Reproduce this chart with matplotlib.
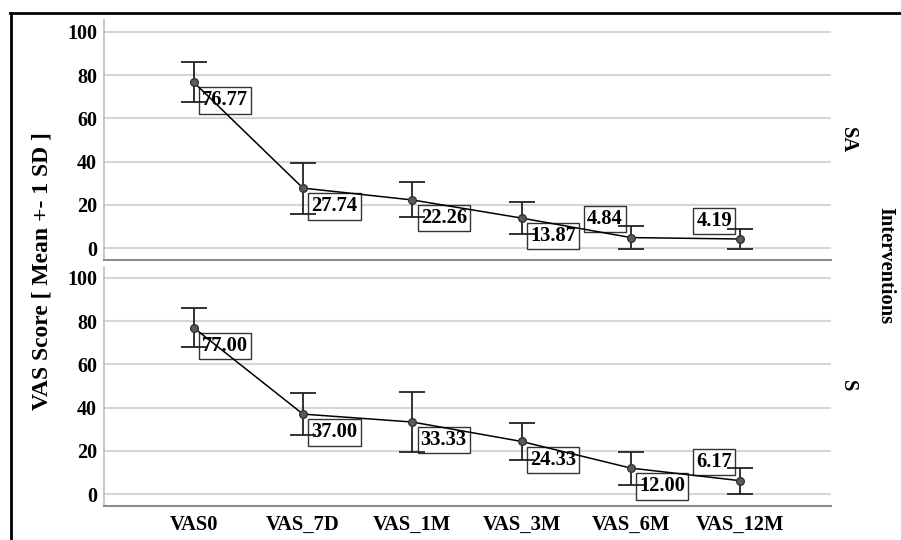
import numpy as np
import matplotlib.pyplot as plt
from matplotlib.lines import Line2D

plt.rcParams['font.family'] = ['Liberation Serif', 'DejaVu Serif']
plt.rcParams['font.weight'] = 'bold'

timepoints = ['VAS0', 'VAS_7D', 'VAS_1M', 'VAS_3M', 'VAS_6M', 'VAS_12M']
groups = ['SA', 'S']
sa_mean = [76.77, 27.74, 22.26, 13.87, 4.84, 4.19]
sa_sd = [9.3, 11.8, 8.1, 7.6, 5.2, 4.5]
s_mean = [77.00, 37.00, 33.33, 24.33, 12.00, 6.17]
s_sd = [9.0, 9.8, 14.0, 8.5, 7.6, 6.1]
# which labels sit above-left of the point instead of below-right
sa_above = [False, False, False, False, True, True]
s_above = [False, False, False, False, False, True]

W, H = 901, 540
fig = plt.figure(figsize=(W / 100, H / 100), dpi=100)

# outer frame (only left and top edges visible)
fig.add_artist(Line2D([10.5 / W, 10.5 / W], [0, 1 - 13 / H], color='black', lw=2,
                      transform=fig.transFigure))
fig.add_artist(Line2D([10 / W, 1], [1 - 13 / H, 1 - 13 / H], color='black', lw=2,
                      transform=fig.transFigure))

left, right = 104, 831
panels = [(20.5, 259.5), (266.5, 505.5)]
data = [(sa_mean, sa_sd, sa_above), (s_mean, s_sd, s_above)]
x = np.arange(len(timepoints))

for i, ((top, bot), (m, sd, above)) in enumerate(zip(panels, data)):
    ax = fig.add_axes([left / W, 1 - bot / H, (right - left) / W, (bot - top) / H])
    ax.set_xlim(-0.82, 5.83)
    ax.set_ylim(-5.3, 105.3)
    ax.set_yticks([0, 20, 40, 60, 80, 100])
    ax.yaxis.grid(True, color='#d6d6d6', lw=1.5, zorder=0)
    ax.set_axisbelow(True)
    for s in ['top', 'right']:
        ax.spines[s].set_visible(False)
    ax.spines['left'].set_color('#bdbdbd')
    ax.spines['bottom'].set_color('#8c8c8c')
    ax.spines['left'].set_linewidth(1.2)
    ax.spines['bottom'].set_linewidth(1.5)
    ax.tick_params(length=0, labelsize=14.5, pad=5)
    for lab in ax.get_yticklabels():
        lab.set_fontweight('bold')
    ax.set_xticks(x)
    if i == 1:
        ax.set_xticklabels(timepoints, fontsize=14.8, fontweight='bold')
        ax.tick_params(axis='x', pad=7)
    else:
        ax.set_xticklabels([])

    ax.errorbar(x, m, yerr=sd, fmt='none', ecolor='#222222', elinewidth=1.3,
                capsize=9.5, capthick=1.3, zorder=3)
    ax.plot(x, m, color='black', lw=1.1, marker='o', markersize=5.5,
            markerfacecolor='#5a5a5a', markeredgecolor='#333333', zorder=4)

    for xi, mi, up in zip(x, m, above):
        if up:
            off, ha, va = (-6, 6), 'right', 'bottom'
        else:
            off, ha, va = (6, -6), 'left', 'top'
        ax.annotate(f'{mi:.2f}', (xi, mi), xytext=off, textcoords='offset points',
                    ha=ha, va=va, fontsize=14.8, fontweight='bold', zorder=2,
                    bbox=dict(boxstyle='square,pad=0.15', fc='white', ec='#333333', lw=1))

    fig.text(848 / W, 1 - ((top + bot) / 2) / H, groups[i], rotation=-90,
             ha='center', va='center', fontsize=14.8, fontweight='bold')

fig.text(42 / W, 1 - 271 / H, 'VAS Score [ Mean +- 1 SD ]', rotation=90,
         ha='center', va='center', fontsize=17, fontweight='bold')
fig.text(885 / W, 1 - 266 / H, 'Interventions', rotation=-90,
         ha='center', va='center', fontsize=14.8, fontweight='bold')

fig.savefig('out.png', dpi=100)
